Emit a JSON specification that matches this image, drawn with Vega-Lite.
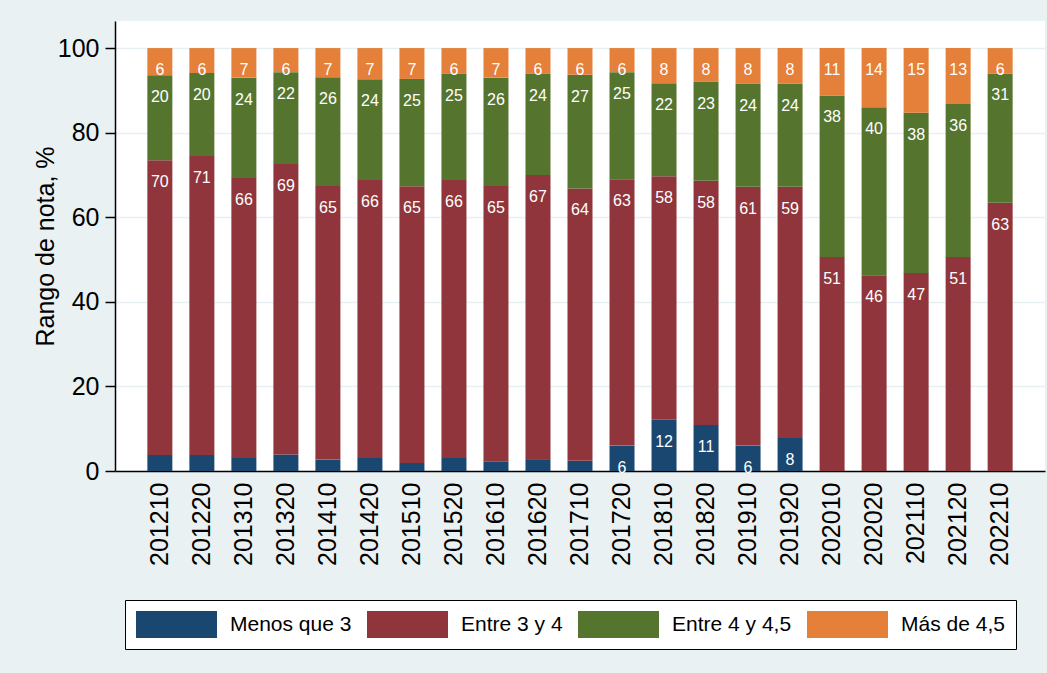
{
  "$schema": "https://vega.github.io/schema/vega-lite/v6.json",
  "autosize": {"type": "none"},
  "width": 930,
  "height": 450,
  "padding": {"left": 115, "top": 21, "right": 2, "bottom": 202},
  "background": "#EAF1F3",
  "config": {
    "font": "Liberation Sans",
    "view": {"fill": "white", "stroke": null}
  },
  "data": {"values": [
    {"periodo":"201210","rango":"Menos que 3","orden":1,"valor":3.8},{"periodo":"201210","rango":"Entre 3 y 4","orden":2,"valor":69.7},{"periodo":"201210","rango":"Entre 4 y 4,5","orden":3,"valor":20.1},{"periodo":"201210","rango":"Más de 4,5","orden":4,"valor":6.4},
    {"periodo":"201220","rango":"Menos que 3","orden":1,"valor":3.8},{"periodo":"201220","rango":"Entre 3 y 4","orden":2,"valor":70.7},{"periodo":"201220","rango":"Entre 4 y 4,5","orden":3,"valor":19.6},{"periodo":"201220","rango":"Más de 4,5","orden":4,"valor":5.9},
    {"periodo":"201310","rango":"Menos que 3","orden":1,"valor":3.1},{"periodo":"201310","rango":"Entre 3 y 4","orden":2,"valor":66.2},{"periodo":"201310","rango":"Entre 4 y 4,5","orden":3,"valor":23.7},{"periodo":"201310","rango":"Más de 4,5","orden":4,"valor":7.0},
    {"periodo":"201320","rango":"Menos que 3","orden":1,"valor":3.9},{"periodo":"201320","rango":"Entre 3 y 4","orden":2,"valor":68.7},{"periodo":"201320","rango":"Entre 4 y 4,5","orden":3,"valor":21.7},{"periodo":"201320","rango":"Más de 4,5","orden":4,"valor":5.7},
    {"periodo":"201410","rango":"Menos que 3","orden":1,"valor":2.7},{"periodo":"201410","rango":"Entre 3 y 4","orden":2,"valor":64.7},{"periodo":"201410","rango":"Entre 4 y 4,5","orden":3,"valor":25.7},{"periodo":"201410","rango":"Más de 4,5","orden":4,"valor":6.9},
    {"periodo":"201420","rango":"Menos que 3","orden":1,"valor":3.1},{"periodo":"201420","rango":"Entre 3 y 4","orden":2,"valor":65.7},{"periodo":"201420","rango":"Entre 4 y 4,5","orden":3,"valor":23.8},{"periodo":"201420","rango":"Más de 4,5","orden":4,"valor":7.4},
    {"periodo":"201510","rango":"Menos que 3","orden":1,"valor":1.9},{"periodo":"201510","rango":"Entre 3 y 4","orden":2,"valor":65.4},{"periodo":"201510","rango":"Entre 4 y 4,5","orden":3,"valor":25.4},{"periodo":"201510","rango":"Más de 4,5","orden":4,"valor":7.3},
    {"periodo":"201520","rango":"Menos que 3","orden":1,"valor":3.1},{"periodo":"201520","rango":"Entre 3 y 4","orden":2,"valor":65.7},{"periodo":"201520","rango":"Entre 4 y 4,5","orden":3,"valor":25.1},{"periodo":"201520","rango":"Más de 4,5","orden":4,"valor":6.1},
    {"periodo":"201610","rango":"Menos que 3","orden":1,"valor":2.2},{"periodo":"201610","rango":"Entre 3 y 4","orden":2,"valor":65.2},{"periodo":"201610","rango":"Entre 4 y 4,5","orden":3,"valor":25.6},{"periodo":"201610","rango":"Más de 4,5","orden":4,"valor":7.0},
    {"periodo":"201620","rango":"Menos que 3","orden":1,"valor":2.8},{"periodo":"201620","rango":"Entre 3 y 4","orden":2,"valor":67.2},{"periodo":"201620","rango":"Entre 4 y 4,5","orden":3,"valor":23.9},{"periodo":"201620","rango":"Más de 4,5","orden":4,"valor":6.1},
    {"periodo":"201710","rango":"Menos que 3","orden":1,"valor":2.4},{"periodo":"201710","rango":"Entre 3 y 4","orden":2,"valor":64.4},{"periodo":"201710","rango":"Entre 4 y 4,5","orden":3,"valor":26.9},{"periodo":"201710","rango":"Más de 4,5","orden":4,"valor":6.3},
    {"periodo":"201720","rango":"Menos que 3","orden":1,"valor":6.0},{"periodo":"201720","rango":"Entre 3 y 4","orden":2,"valor":63.0},{"periodo":"201720","rango":"Entre 4 y 4,5","orden":3,"valor":25.3},{"periodo":"201720","rango":"Más de 4,5","orden":4,"valor":5.7},
    {"periodo":"201810","rango":"Menos que 3","orden":1,"valor":12.1},{"periodo":"201810","rango":"Entre 3 y 4","orden":2,"valor":57.6},{"periodo":"201810","rango":"Entre 4 y 4,5","orden":3,"valor":22.0},{"periodo":"201810","rango":"Más de 4,5","orden":4,"valor":8.3},
    {"periodo":"201820","rango":"Menos que 3","orden":1,"valor":10.9},{"periodo":"201820","rango":"Entre 3 y 4","orden":2,"valor":57.7},{"periodo":"201820","rango":"Entre 4 y 4,5","orden":3,"valor":23.4},{"periodo":"201820","rango":"Más de 4,5","orden":4,"valor":8.0},
    {"periodo":"201910","rango":"Menos que 3","orden":1,"valor":6.0},{"periodo":"201910","rango":"Entre 3 y 4","orden":2,"valor":61.2},{"periodo":"201910","rango":"Entre 4 y 4,5","orden":3,"valor":24.4},{"periodo":"201910","rango":"Más de 4,5","orden":4,"valor":8.4},
    {"periodo":"201920","rango":"Menos que 3","orden":1,"valor":7.8},{"periodo":"201920","rango":"Entre 3 y 4","orden":2,"valor":59.4},{"periodo":"201920","rango":"Entre 4 y 4,5","orden":3,"valor":24.4},{"periodo":"201920","rango":"Más de 4,5","orden":4,"valor":8.4},
    {"periodo":"202010","rango":"Menos que 3","orden":1,"valor":0},{"periodo":"202010","rango":"Entre 3 y 4","orden":2,"valor":50.6},{"periodo":"202010","rango":"Entre 4 y 4,5","orden":3,"valor":38.2},{"periodo":"202010","rango":"Más de 4,5","orden":4,"valor":11.2},
    {"periodo":"202020","rango":"Menos que 3","orden":1,"valor":0},{"periodo":"202020","rango":"Entre 3 y 4","orden":2,"valor":46.3},{"periodo":"202020","rango":"Entre 4 y 4,5","orden":3,"valor":39.7},{"periodo":"202020","rango":"Más de 4,5","orden":4,"valor":14.0},
    {"periodo":"202110","rango":"Menos que 3","orden":1,"valor":0},{"periodo":"202110","rango":"Entre 3 y 4","orden":2,"valor":46.8},{"periodo":"202110","rango":"Entre 4 y 4,5","orden":3,"valor":37.9},{"periodo":"202110","rango":"Más de 4,5","orden":4,"valor":15.3},
    {"periodo":"202120","rango":"Menos que 3","orden":1,"valor":0},{"periodo":"202120","rango":"Entre 3 y 4","orden":2,"valor":50.6},{"periodo":"202120","rango":"Entre 4 y 4,5","orden":3,"valor":36.2},{"periodo":"202120","rango":"Más de 4,5","orden":4,"valor":13.2},
    {"periodo":"202210","rango":"Menos que 3","orden":1,"valor":0},{"periodo":"202210","rango":"Entre 3 y 4","orden":2,"valor":63.4},{"periodo":"202210","rango":"Entre 4 y 4,5","orden":3,"valor":30.6},{"periodo":"202210","rango":"Más de 4,5","orden":4,"valor":6.0}
  ]},
  "transform": [
    {"stack": "valor", "groupby": ["periodo"], "sort": [{"field": "orden", "order": "ascending"}], "as": ["v0", "v1"]}
  ],
  "encoding": {
    "x": {
      "field": "periodo", "type": "nominal", "title": null,
      "scale": {"paddingInner": 0.405, "paddingOuter": 0.77},
      "axis": {
        "labelAngle": -90, "labelAlign": "right", "labelBaseline": "middle",
        "labelFontSize": 25, "labelColor": "black", "labelPadding": 11,
        "ticks": false, "domainColor": "black", "domainWidth": 1.5
      }
    }
  },
  "layer": [
    {
      "mark": {"type": "bar"},
      "encoding": {
        "y": {
          "field": "v0", "type": "quantitative",
          "title": "Rango de nota, %",
          "scale": {"domain": [0, 106.4], "nice": false, "zero": true},
          "axis": {
            "values": [0, 20, 40, 60, 80, 100],
            "labelFontSize": 25, "labelColor": "black", "labelPadding": 6,
            "tickSize": 10, "tickColor": "black", "tickWidth": 1.5,
            "domainColor": "black", "domainWidth": 1.5,
            "grid": true, "gridColor": "#E6EFF2", "gridWidth": 1.5,
            "titleFontSize": 25, "titleFontWeight": "normal", "titleColor": "black",
            "titleAngle": -90, "titleX": -70, "titleY": 225,
            "titleAlign": "center", "titleBaseline": "middle"
          }
        },
        "y2": {"field": "v1"},
        "color": {
          "field": "rango", "type": "nominal",
          "scale": {
            "domain": ["Menos que 3", "Entre 3 y 4", "Entre 4 y 4,5", "Más de 4,5"],
            "range": ["#1A476F", "#90353B", "#55752F", "#E4803A"]
          },
          "legend": {
            "title": null, "orient": "none", "direction": "horizontal", "columns": 4,
            "legendX": 10, "legendY": 579,
            "fillColor": "white", "strokeColor": "black",
            "padding": 11,
            "symbolType": "M-1,-1L5,-1L5,1L-1,1Z",
            "symbolSize": 729, "symbolStrokeWidth": 0, "symbolOpacity": 1,
            "labelFont": "Liberation Sans", "labelFontSize": 21, "labelColor": "black",
            "labelOffset": 67, "columnPadding": 15, "labelLimit": 400
          }
        }
      }
    },
    {
      "transform": [{"filter": "datum.valor >= 5"}],
      "mark": {"type": "text", "color": "white", "fontSize": 16, "baseline": "middle", "dy": 22},
      "encoding": {
        "y": {"field": "v1", "type": "quantitative"},
        "text": {"field": "valor", "type": "quantitative", "format": ".0f"}
      }
    }
  ]
}
